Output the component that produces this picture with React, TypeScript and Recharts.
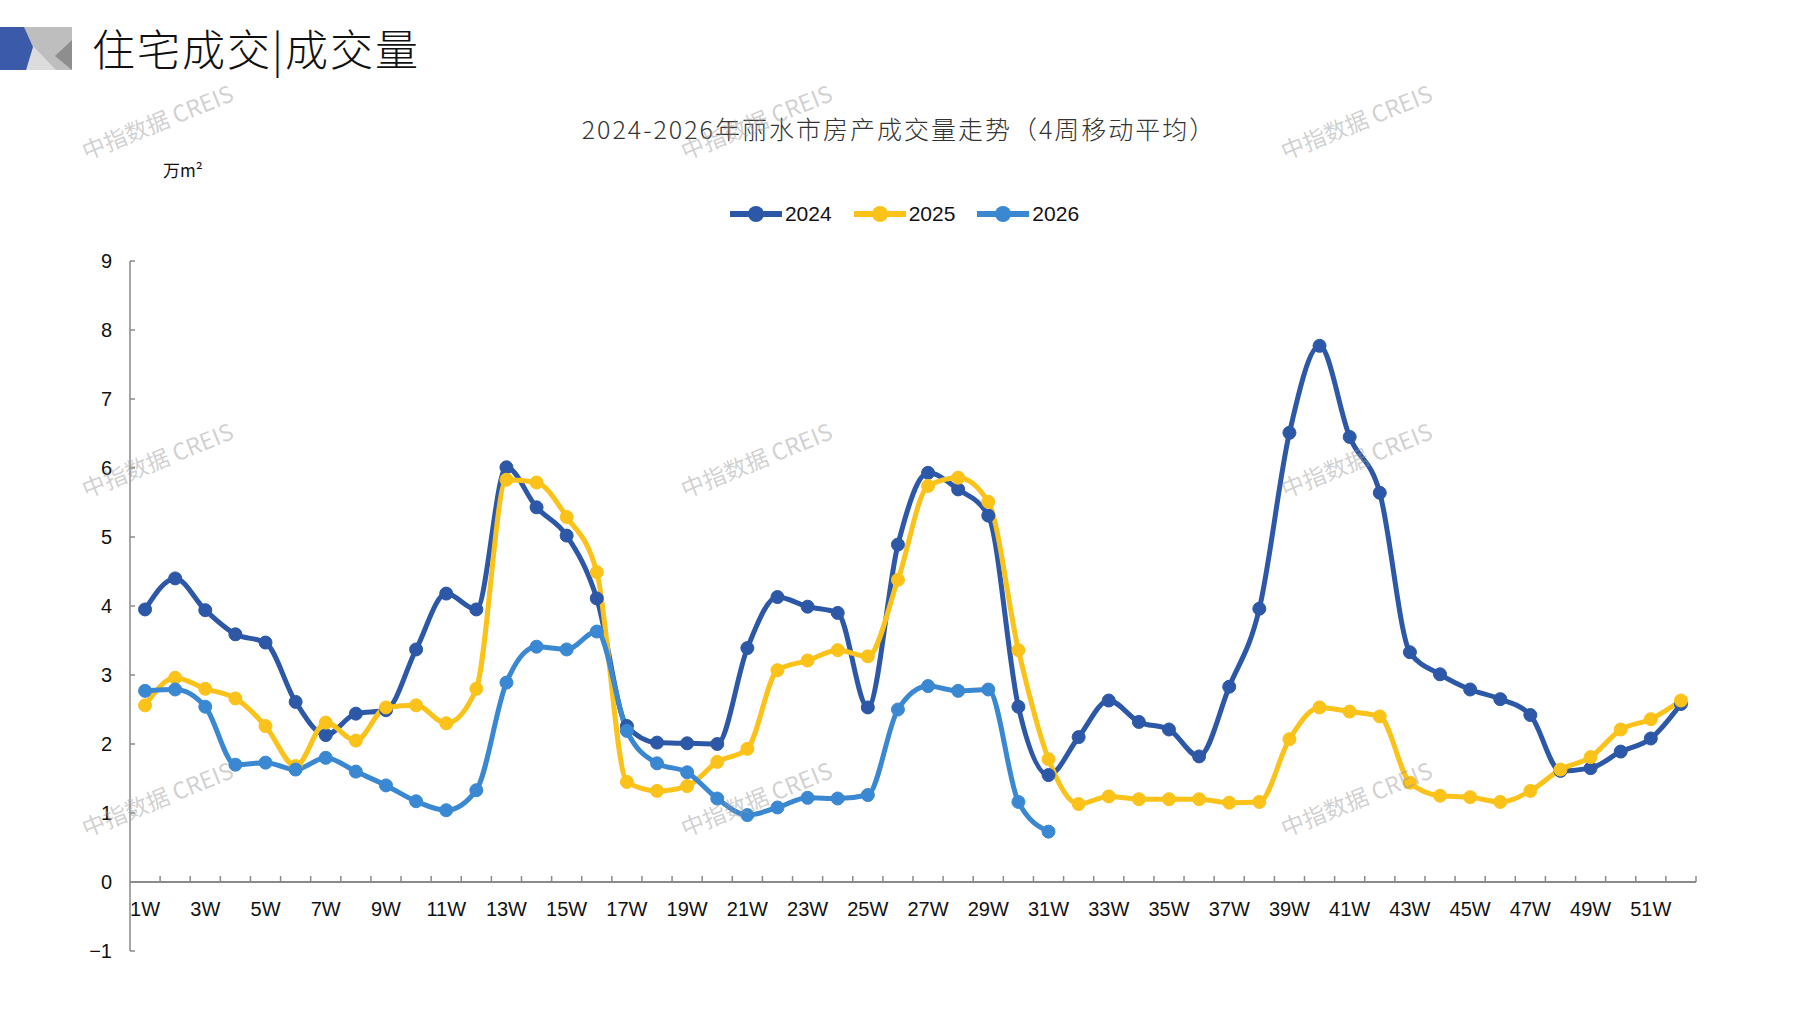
import React from 'react';
import { LineChart, Line, XAxis, YAxis, ReferenceLine, Legend } from 'recharts';

const weeks = [
  '1W','2W','3W','4W','5W','6W','7W','8W','9W','10W','11W','12W','13W','14W','15W','16W','17W','18W','19W','20W',
  '21W','22W','23W','24W','25W','26W','27W','28W','29W','30W','31W','32W','33W','34W','35W','36W','37W','38W','39W','40W',
  '41W','42W','43W','44W','45W','46W','47W','48W','49W','50W','51W','52W',
];

const v2024 = [
  3.95, 4.40, 3.94, 3.59, 3.47, 2.61, 2.13, 2.44, 2.49, 3.37,
  4.18, 3.95, 6.01, 5.43, 5.02, 4.11, 2.26, 2.02, 2.01, 2.00,
  3.39, 4.13, 3.99, 3.90, 2.53, 4.89, 5.93, 5.69, 5.31, 2.54,
  1.55, 2.10, 2.63, 2.32, 2.21, 1.82, 2.83, 3.96, 6.51, 7.77,
  6.45, 5.64, 3.33, 3.01, 2.79, 2.65, 2.42, 1.61, 1.65, 1.89, 2.08, 2.58,
];

const v2025 = [
  2.56, 2.96, 2.80, 2.66, 2.26, 1.68, 2.31, 2.05, 2.53, 2.56,
  2.30, 2.80, 5.83, 5.79, 5.29, 4.49, 1.45, 1.32, 1.39, 1.74,
  1.93, 3.07, 3.21, 3.36, 3.27, 4.38, 5.74, 5.86, 5.51, 3.36,
  1.78, 1.13, 1.24, 1.20, 1.20, 1.20, 1.15, 1.16, 2.07, 2.53,
  2.47, 2.40, 1.44, 1.25, 1.23, 1.16, 1.32, 1.63, 1.81, 2.21, 2.36, 2.63,
];

const v2026 = [
  2.77, 2.79, 2.54, 1.70, 1.73, 1.63, 1.80, 1.60, 1.40, 1.17,
  1.04, 1.33, 2.89, 3.41, 3.37, 3.63, 2.19, 1.72, 1.59, 1.21,
  0.97, 1.08, 1.22, 1.21, 1.26, 2.50, 2.84, 2.77, 2.79, 1.16,
  0.73,
];

const yTicks = [-1, 0, 1, 2, 3, 4, 5, 6, 7, 8, 9];
const seriesNames = ['2024', '2025', '2026'];
const seriesColors = ['#2C58A7', '#FBC21A', '#3B88D2'];

const rows = weeks.map((w, i) => ({
  week: w,
  '2024': v2024[i] ?? null,
  '2025': v2025[i] ?? null,
  '2026': v2026[i] ?? null,
}));

const W = 1797;
const H = 1010;
const M = { top: 261, right: 101, bottom: 29, left: 0 };
const XAXIS_H = 30;
const YAXIS_W = 130;
const PLOT_TOP = M.top;
const PLOT_BOTTOM = H - M.bottom - XAXIS_H;
const Y_MIN = -1;
const Y_MAX = 9;
const ZERO_Y = PLOT_BOTTOM - ((PLOT_BOTTOM - PLOT_TOP) * (0 - Y_MIN)) / (Y_MAX - Y_MIN);
const AXIS_GREY = '#8a8a8a';
const SANS = '"Liberation Sans", Arial, sans-serif';
const NARROW = '"Liberation Sans Narrow", "Liberation Sans", sans-serif';
const CJK = '"Noto Sans CJK SC", "Noto Sans", sans-serif';

const XTick = (props: any) => {
  const { x, payload, index } = props;
  const half = payload?.offset ?? 0;
  return (
    <g>
      <line x1={x + half} x2={x + half} y1={ZERO_Y} y2={ZERO_Y - 6} stroke={AXIS_GREY} strokeWidth={1.5} />
      {index % 2 === 0 ? (
        <text
          x={x}
          y={ZERO_Y + 27}
          textAnchor="middle"
          dominantBaseline="central"
          fontFamily={NARROW}
          fontSize={20}
          fill="#111"
        >
          {payload.value}
        </text>
      ) : null}
    </g>
  );
};

const YTick = (props: any) => {
  const { x, y, payload } = props;
  return (
    <g>
      <line x1={x + 18} x2={x + 23} y1={y} y2={y} stroke={AXIS_GREY} strokeWidth={1.5} />
      <text
        x={x}
        y={y}
        textAnchor="end"
        dominantBaseline="central"
        fontFamily={SANS}
        fontSize={20}
        fill="#111"
      >
        {payload.value < 0 ? '\u2212' + Math.abs(payload.value) : payload.value}
      </text>
    </g>
  );
};

const LegendContent = (props: any) => {
  const { payload } = props;
  return (
    <div style={{ display: 'flex', justifyContent: 'center', alignItems: 'center', gap: 22, height: 26 }}>
      {(payload || []).map((p: any) => (
        <div key={p.value} style={{ display: 'flex', alignItems: 'center' }}>
          <svg width={52} height={20} style={{ display: 'block' }}>
            <line x1={1} x2={51} y1={10} y2={10} stroke={p.color} strokeWidth={6} strokeLinecap="round" />
            <circle cx={26} cy={10} r={8} fill={p.color} />
          </svg>
          <span style={{ marginLeft: 3, fontFamily: SANS, fontSize: 21, color: '#111', lineHeight: '26px' }}>{p.value}</span>
        </div>
      ))}
    </div>
  );
};

const watermarkPos = [
  [157, 121], [756, 121], [1356, 121],
  [157, 459], [756, 459], [1356, 459],
  [157, 798], [756, 798], [1356, 798],
];

export default function App() {
  return (
    <div style={{ position: 'absolute', left: 0, top: 0, width: W, height: H, background: '#fff', overflow: 'hidden' }}>
      <svg width={W} height={H} style={{ position: 'absolute', left: 0, top: 0 }}>
        <polygon points="23,27 72,27 72,70 23,70" fill="#BEBEBE" />
        <polygon points="26,70 33,46 56,70" fill="#DCDCDC" />
        <polygon points="72,40 72,70 55,56" fill="#8E8E8E" />
        <polygon points="0,27 24,27 33,47 26,70 0,70" fill="#3B5BAA" />
        <text x={92} y={66} fontFamily={CJK} fontWeight={300} fontSize={43} letterSpacing={2} fill="#111">
          住宅成交|成交量
        </text>
        <text
          x={899}
          y={128}
          textAnchor="middle"
          dominantBaseline="central"
          fontFamily={CJK}
          fontWeight={300}
          fontSize={25}
          letterSpacing={2}
          fill="#333"
        >
          2024-2026年丽水市房产成交量走势（4周移动平均）
        </text>
        <text x={163} y={169} dominantBaseline="central" fontFamily={CJK} fontSize={17} fill="#111">
          万m²
        </text>
      </svg>
      <div style={{ position: 'absolute', left: 0, top: 0 }}>
        <LineChart width={W} height={H} data={rows} margin={M}>
          <XAxis
            dataKey="week"
            scale="band"
            height={XAXIS_H}
            axisLine={false}
            tickLine={false}
            interval={0}
            tick={<XTick />}
          />
          <YAxis
            width={YAXIS_W}
            domain={[Y_MIN, Y_MAX]}
            ticks={yTicks}
            interval={0}
            axisLine={{ stroke: AXIS_GREY, strokeWidth: 1.5 }}
            tickLine={false}
            tickSize={0}
            tickMargin={18}
            tick={<YTick />}
          />
          <ReferenceLine y={0} stroke={AXIS_GREY} strokeWidth={2} />
          <Legend
            verticalAlign="middle"
            layout="horizontal"
            align="center"
            content={<LegendContent />}
            wrapperStyle={{ top: 201, left: 6, width: W, height: 26 }}
          />
          {seriesNames.map((name, i) => (
            <Line
              key={name}
              dataKey={name}
              name={name}
              type="monotone"
              stroke={seriesColors[i]}
              strokeWidth={5}
              dot={{ r: 6.5, fill: seriesColors[i], stroke: seriesColors[i], strokeWidth: 1 }}
              activeDot={false}
              connectNulls={false}
              isAnimationActive={false}
            />
          ))}
        </LineChart>
      </div>
      <div style={{ position: 'absolute', left: 0, top: 0, width: W, height: H, pointerEvents: 'none' }}>
        {watermarkPos.map(([cx, cy], i) => (
          <div
            key={i}
            style={{
              position: 'absolute',
              left: cx - 110,
              top: cy - 15,
              width: 220,
              height: 30,
              lineHeight: '30px',
              textAlign: 'center',
              transform: 'rotate(-22deg)',
              fontFamily: '"Noto Sans CJK SC", "Liberation Sans", sans-serif',
              fontSize: 23,
              color: 'rgba(150,150,150,0.45)',
              whiteSpace: 'nowrap',
            }}
          >
            中指数据 CREIS
          </div>
        ))}
      </div>
    </div>
  );
}
